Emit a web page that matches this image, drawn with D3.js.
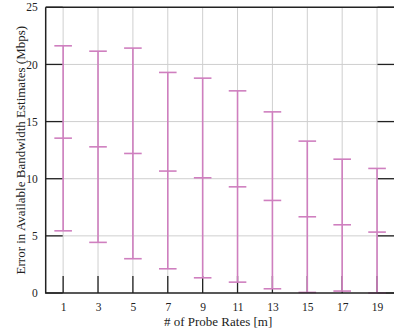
<!DOCTYPE html>
<html><head><meta charset="utf-8">
<script src="https://cdn.jsdelivr.net/npm/d3@7"></script>
<style>body{margin:0;background:#fff}svg{display:block}text{font-family:"Liberation Serif","DejaVu Serif",serif}</style>
</head><body>
<script>
const probeRates = [1,3,5,7,9,11,13,15,17,19];
const errMax = [21.63,21.16,21.43,19.3,18.8,17.69,15.85,13.29,11.71,10.9];
const errMid = [13.55,12.79,12.21,10.67,10.08,9.29,8.1,6.67,5.97,5.33];
const errMin = [5.44,4.43,3.0,2.12,1.33,0.95,0.37,0.05,0.17,0.0];
const yTicks = [0,5,10,15,20,25];

(function(){
const W=394,H=333;
const pL=45.7,pR=394.5,pT=7.3,pB=293;
const svg=d3.select("body").append("svg").attr("width",W).attr("height",H);
const x=d3.scaleLinear().domain([0,20]).range([pL,pR]);
const y=d3.scaleLinear().domain([0,25]).range([pB,pT]);
const data=probeRates.map((r,i)=>({r,max:errMax[i],mid:errMid[i],min:errMin[i]}));

const g=svg.append("g");
g.selectAll(".vg").data(probeRates).join("line")
 .attr("x1",d=>x(d)).attr("x2",d=>x(d)).attr("y1",pT).attr("y2",pB)
 .attr("stroke","#cfcfcf").attr("stroke-width",1);
g.selectAll(".hg").data(yTicks.slice(1,-1)).join("line")
 .attr("x1",pL).attr("x2",pR).attr("y1",d=>y(d)).attr("y2",d=>y(d))
 .attr("stroke","#cfcfcf").attr("stroke-width",1);

const tk=svg.append("g").attr("stroke","#222").attr("stroke-width",1.3);
tk.selectAll(".bt").data(probeRates).join("line")
 .attr("x1",d=>x(d)).attr("x2",d=>x(d)).attr("y1",pB).attr("y2",pB-17);
tk.selectAll(".lt").data(yTicks).join("line")
 .attr("x1",pL).attr("x2",pL+17).attr("y1",d=>y(d)).attr("y2",d=>y(d));
tk.selectAll(".rt").data(yTicks).join("line")
 .attr("x1",pR-17).attr("x2",pR).attr("y1",d=>y(d)).attr("y2",d=>y(d));

const col="#cf7fbf";
const eb=svg.append("g").attr("stroke",col).attr("stroke-width",1.6);
eb.selectAll(".v").data(data).join("line")
 .attr("x1",d=>x(d.r)).attr("x2",d=>x(d.r)).attr("y1",d=>y(d.min)).attr("y2",d=>y(d.max));
["max","mid","min"].forEach(k=>{
 eb.append("g").selectAll("line").data(data).join("line")
  .attr("x1",d=>x(d.r)-8.8).attr("x2",d=>x(d.r)+8.8)
  .attr("y1",d=>y(d[k])).attr("y2",d=>y(d[k]));
});

svg.append("path").attr("d",`M${pL},${pT}H${pR}M${pL},${pT}V${pB}H${pR}`)
 .attr("fill","none").attr("stroke","#222").attr("stroke-width",1.5);

const xa=svg.append("g").attr("transform",`translate(0,${pB})`)
 .call(d3.axisBottom(x).tickValues(probeRates).tickSize(0).tickPadding(10));
const ya=svg.append("g").attr("transform",`translate(${pL},0)`)
 .call(d3.axisLeft(y).tickValues(yTicks).tickSize(0).tickPadding(8));
[xa,ya].forEach(a=>{a.select(".domain").remove();
 a.attr("font-family",null);
 a.selectAll("text").attr("font-size",11.5).attr("fill","#222");});

svg.append("text").attr("x",(pL+pR)/2-2).attr("y",326).attr("text-anchor","middle")
 .attr("font-size",13).attr("fill","#222").text("# of Probe Rates [m]");
svg.append("text").attr("transform",`translate(20,${(pT+pB)/2}) rotate(-90)`)
 .attr("text-anchor","middle").attr("dy","0.35em")
 .attr("font-size",13).attr("fill","#222")
 .text("Error in Available Bandwidth Estimates (Mbps)");
})();
</script>
</body></html>
